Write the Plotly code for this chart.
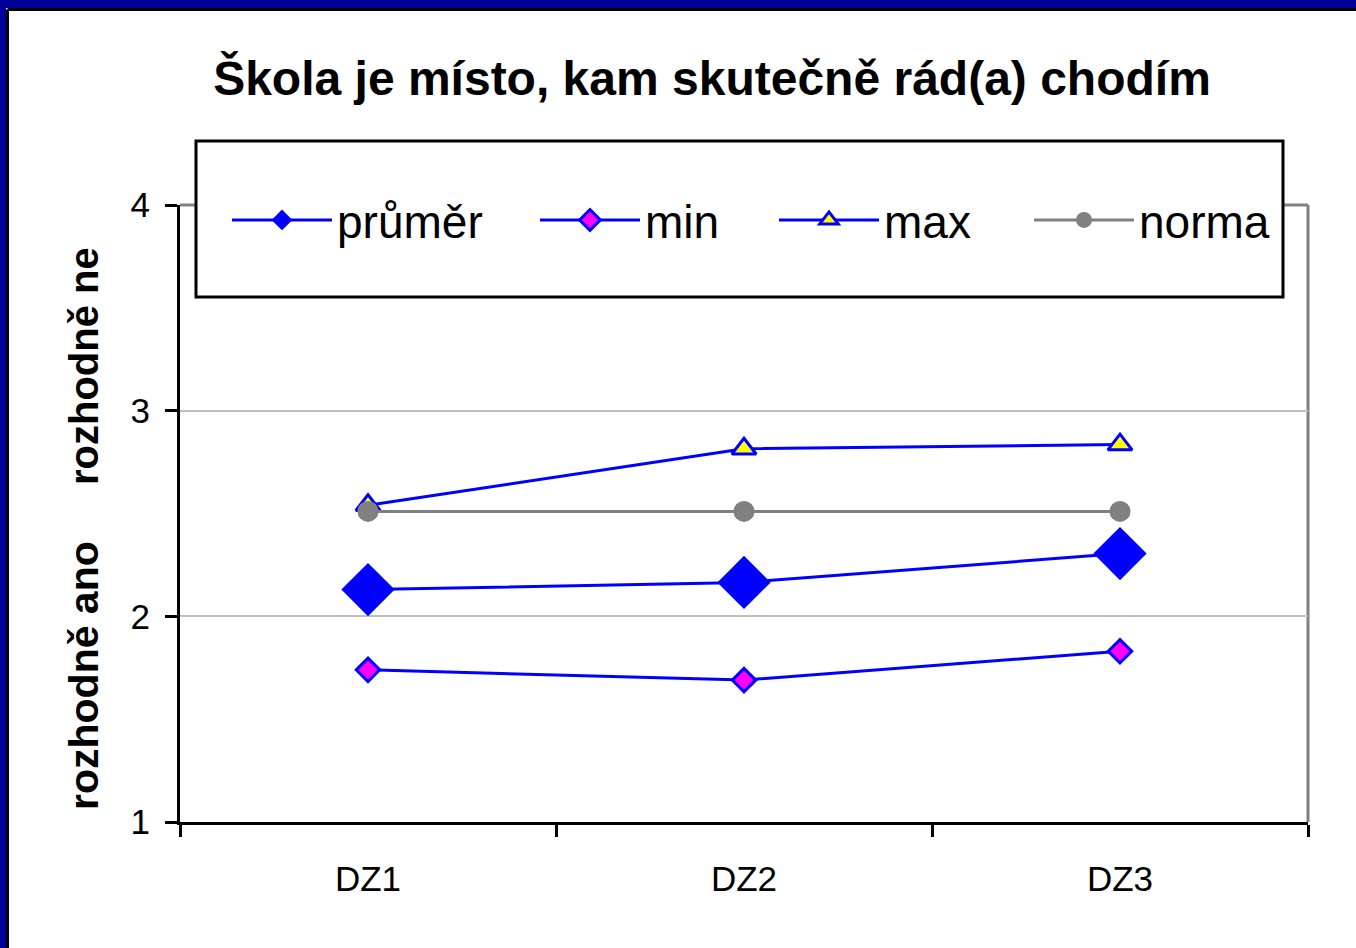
import plotly.graph_objects as go

categories = ["DZ1", "DZ2", "DZ3"]
prumer = [2.13, 2.165, 2.305]
minimum = [1.74, 1.69, 1.83]
maximum = [2.54, 2.815, 2.835]
norma = [2.51, 2.51, 2.51]

title_text = "Škola je místo, kam skutečně rád(a) chodím"
y_label_low = "rozhodně ano"
y_label_high = "rozhodně ne"
y_ticks = [1, 2, 3, 4]

W, H = 1356, 948
L, R, T, B = 180, 48, 205, 126
pw, ph = W - L - R, H - T - B

def px(x):
    return (x - L) / pw

def py(y):
    return (H - B - y) / ph

BLUE = "#0000FF"
GRAY = "#808080"
FONT = "Arial, Liberation Sans, sans-serif"

fig = go.Figure()
fig.add_trace(go.Scatter(x=categories, y=prumer, name="průměr", mode="lines+markers",
                         line=dict(color=BLUE, width=3),
                         marker=dict(symbol="diamond", size=41, color=BLUE, line=dict(width=0)),
                         legend="legend"))
fig.add_trace(go.Scatter(x=categories, y=minimum, name="min", mode="lines+markers",
                         line=dict(color=BLUE, width=3),
                         marker=dict(symbol="diamond", size=18, color="#FF00FF", line=dict(color=BLUE, width=3)),
                         legend="legend2"))
fig.add_trace(go.Scatter(x=categories, y=maximum, name="max", mode="lines+markers",
                         line=dict(color=BLUE, width=3),
                         marker=dict(symbol="triangle-up", size=21, color="#FFFF00", line=dict(color=BLUE, width=3)),
                         legend="legend3"))
fig.add_trace(go.Scatter(x=categories, y=norma, name="norma", mode="lines+markers",
                         line=dict(color=GRAY, width=3),
                         marker=dict(symbol="circle", size=21, color=GRAY, line=dict(width=0)),
                         legend="legend4"))

shapes = [
    # plot border top/right (gray)
    dict(type="line", xref="paper", yref="paper", x0=0, x1=1, y0=1, y1=1,
         line=dict(color=GRAY, width=3), layer="below"),
    dict(type="line", xref="paper", yref="paper", x0=1, x1=1, y0=0, y1=1,
         line=dict(color=GRAY, width=3), layer="below"),
    # legend box
    dict(type="rect", xref="paper", yref="paper", x0=px(196), x1=px(1283), y0=py(297), y1=py(141),
         line=dict(color="black", width=3), fillcolor="white", layer="above"),
    # outer frame: blue band top & left, with thin black inner line
    dict(type="rect", xref="paper", yref="paper", x0=px(-5), x1=px(W + 5), y0=py(8), y1=py(-5),
         line=dict(width=0), fillcolor="#000099", layer="above"),
    dict(type="rect", xref="paper", yref="paper", x0=px(-5), x1=px(6), y0=py(H + 5), y1=py(-5),
         line=dict(width=0), fillcolor="#000099", layer="above"),
    dict(type="line", xref="paper", yref="paper", x0=px(7.5), x1=px(W + 5), y0=py(9.5), y1=py(9.5),
         line=dict(color="black", width=3), layer="above"),
    dict(type="line", xref="paper", yref="paper", x0=px(7.5), x1=px(7.5), y0=py(9.5), y1=py(H + 5),
         line=dict(color="black", width=3), layer="above"),
]

legend_common = dict(orientation="h", bgcolor="rgba(0,0,0,0)", borderwidth=0,
                     font=dict(family=FONT, size=46, color="black"),
                     itemwidth=100, xanchor="left", yanchor="middle", y=py(220))

annotations = [
    dict(text=y_label_high, xref="paper", yref="paper", x=px(84), y=py(366), showarrow=False,
         xanchor="center", yanchor="middle", textangle=-90,
         font=dict(family=FONT, size=40, color="black", weight="bold")),
    dict(text=y_label_low, xref="paper", yref="paper", x=px(84), y=py(676), showarrow=False,
         xanchor="center", yanchor="middle", textangle=-90,
         font=dict(family=FONT, size=41, color="black", weight="bold")),
]

fig.update_layout(
    width=W, height=H,
    margin=dict(l=L, r=R, t=T, b=B),
    paper_bgcolor="white", plot_bgcolor="white",
    title=dict(text=title_text, x=712 / W, xanchor="center", xref="container",
               y=1 - 78 / H, yanchor="middle", yref="container",
               font=dict(family=FONT, size=48, color="black", weight="bold")),
    legend=dict(legend_common, x=px(227)),
    legend2=dict(legend_common, x=px(535)),
    legend3=dict(legend_common, x=px(774)),
    legend4=dict(legend_common, x=px(1029)),
    xaxis=dict(type="category", range=[-0.5, 2.5], tickson="boundaries",
               showline=True, linecolor="black", linewidth=3,
               ticks="outside", ticklen=12, tickwidth=3, tickcolor="black",
               showgrid=False, zeroline=False,
               tickfont=dict(family=FONT, size=35, color="black"), ticklabelstandoff=24),
    yaxis=dict(range=[1, 4], tickvals=y_ticks, showline=True, linecolor="black", linewidth=3,
               ticks="outside", ticklen=12, tickwidth=3, tickcolor="black",
               showgrid=True, gridcolor="#C0C0C0", gridwidth=2, zeroline=False,
               tickfont=dict(family=FONT, size=35, color="black"), ticklabelstandoff=8),
    shapes=shapes,
    annotations=annotations,
    showlegend=True,
)

fig.write_html("out.html", config={"displayModeBar": False},
               post_script="document.body.style.margin='0';document.body.style.overflow='hidden';")
